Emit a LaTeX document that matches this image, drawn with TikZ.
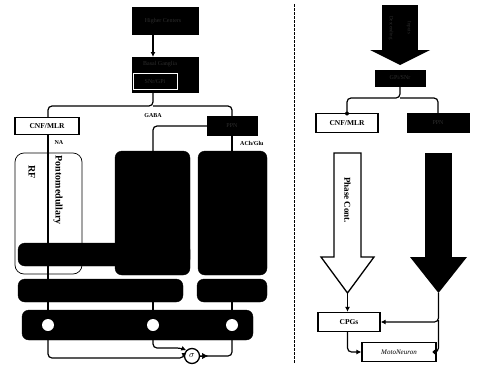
\documentclass[tikz,border=0pt]{standalone}
\usepackage{fontspec}
\setmainfont{Liberation Serif}
\usetikzlibrary{arrows.meta,calc}
\begin{document}
\begin{tikzpicture}[x=1pt,y=-1pt,
  blk/.style={fill=black,draw=black,inner sep=0pt,text=black!82,font=\fontsize{6}{7}\selectfont},
  dtxt/.style={text=black!82,font=\fontsize{6}{7}\selectfont},
  rblk/.style={blk,rounded corners=7pt},
  wbox/.style={draw=black,line width=1.3pt,fill=white,inner sep=0pt,font=\fontsize{7.5}{8}\selectfont\bfseries},
  conn/.style={line width=1.2pt,rounded corners=4pt},
  lab/.style={font=\fontsize{6}{7}\selectfont\bfseries,inner sep=0pt},
  tip/.style={-{Latex[length=5pt,width=5pt]}},
  dottip/.style={-{Circle[length=4pt]}}]
\useasboundingbox (0,0) rectangle (482,367);
% ---------- left panel ----------
\node[blk,minimum width=66,minimum height=27] (hc) at (165,21) {};
\node[dtxt] at (163,21) {Higher Centers};
\node[blk,minimum width=66,minimum height=35] (bg) at (165,74.5) {};
\node[dtxt] at (160,64) {Basal Ganglia};
\node[draw=white,line width=1pt,fill=black,minimum width=44,minimum height=16,inner sep=0pt,dtxt] (snr) at (155,81.5) {SNr/GPi};
\draw[conn,tip] (153,34.5) -- (153,57);
\coordinate (bgb) at (153,92);
\node[wbox,minimum width=64,minimum height=17] (cnf) at (47,126) {CNF/MLR};
\node[blk,minimum width=50,minimum height=19] (ppn) at (232,126) {PPN};
\draw[conn] (bgb) -- (153,106) -- (48,106) -- (cnf.north -| 48,0);
\draw[conn] (153,106) -- (232,106) -- (ppn.north);
\node[lab] at (153,116) {GABA};
% RF
\node[draw=black,line width=0.7pt,rounded corners=9pt,minimum width=67,minimum height=121,inner sep=0pt] (rf) at (48.5,213.5) {};
\draw[conn] (cnf.south -| 48,0) -- (48,311);
\node[lab] at (59,143) {NA};
\node[rotate=-90,font=\fontsize{10}{11}\selectfont\bfseries] at (32,172) {RF};
\node[rotate=-90,anchor=west,font=\fontsize{10}{11}\selectfont\bfseries,fill=white,inner sep=0.5pt] at (58,155) {Pontomedullary};
% PPN outputs
\node[rblk,minimum width=75,minimum height=124] (cen) at (152.5,213) {};
\node[rblk,minimum width=69,minimum height=124] (rgt) at (232.5,213) {};
\draw[conn] (ppn.west) -- (153,126) -- (cen.north -| 153,0);
\draw[conn] (ppn.south) -- (rgt.north -| 232,0);
\node[lab,anchor=west] at (240,143) {ACh/Glu};
\node[rblk,minimum width=172,minimum height=23] (bar1) at (104,254.5) {};
% row 2
\node[rblk,minimum width=165,minimum height=23] (bar2) at (100.5,290.5) {};
\node[rblk,minimum width=70,minimum height=23] (bar2r) at (232,290.5) {};
\draw[conn] (153,302) -- (153,311);
\draw[conn] (232,302) -- (232,311);
% row 3
\node[rblk,minimum width=231,minimum height=30] (bar3) at (137.5,325) {};
\foreach \n/\x in {c1/48,c2/153,c3/232}
  \node[circle,fill=white,minimum size=12pt,inner sep=0pt] (\n) at (\x,325) {};
% summation
\node[circle,draw=black,line width=1.3pt,fill=white,minimum size=15pt,inner sep=0pt,font=\fontsize{9}{9}\selectfont\bfseries\itshape] (sig) at (192,356) {$\sigma$};
\draw[conn,tip] (c1.south) -- (48,358) -- (sig.west |- 0,358) -- ($(sig.west)+(0,2)$);
\draw[conn,tip] (c2.south) -- (153,348) -- (181,348) -- (sig.north west);
\draw[conn] (sig.east) -- (232,356) -- (c3.south);
\draw[-{Latex[length=6pt,width=6pt]}] (sig.east) -- ++(8,0);
% ---------- divider ----------
\draw[line width=1pt,dash pattern=on 2.5pt off 1.5pt] (294,4) -- (294,363);
% ---------- right panel ----------
\fill (382,5) rectangle (418,50);
\fill (370,50) -- (430,50) -- (400,65) -- cycle;
\node[rotate=-90,dtxt,font=\fontsize{5}{6}\selectfont] at (391,28) {Descending};
\node[rotate=-90,dtxt,font=\fontsize{5}{6}\selectfont] at (409,28) {Inputs};
\node[blk,minimum width=50,minimum height=16] (gpi) at (400,78) {GPi/SNr};
\node[wbox,minimum width=62,minimum height=19] (cnf2) at (347,123) {CNF/MLR};
\node[blk,minimum width=62,minimum height=19] (ppn2) at (438,123) {PPN};
\draw[conn] (gpi.south) -- (400,98) -- (347,98) -- (cnf2.north);
\draw[conn] (400,98) -- (438,98) -- (ppn2.north);
\fill (347,113.5) circle (2pt);
% white arrow
\draw[line width=1.3pt,fill=white] (334,153) -- (361,153) -- (361,257) -- (374,257) -- (347.5,293) -- (321,257) -- (334,257) -- cycle;
\node[rotate=-90,font=\fontsize{9}{10}\selectfont\bfseries] at (347.5,200) {Phase Cont.};
% black arrow
\fill (425,153) rectangle (452,257);
\fill (410,257) -- (467,257) -- (438.5,293) -- cycle;
\coordinate (wt) at (347.5,293);
\coordinate (bt) at (438.5,293);
\node[wbox,minimum width=62,minimum height=19] (cpg) at (349,322) {CPGs};
\node[wbox,line width=1.1pt,font=\fontsize{7}{8}\selectfont\itshape,minimum width=74,minimum height=19] (mn) at (399,352) {MotoNeuron};
\draw[conn,tip] (wt) -- (cpg.north -| wt);
\draw[conn,tip] (bt) -- (438.5,322) -- (cpg.east);
\draw[conn,dottip] (438.5,320) -- (438.5,352) -- (mn.east);
\draw[conn,tip] (cpg.south -| 347.5,0) -- (347.5,352) -- (mn.west);
\end{tikzpicture}
\end{document}
